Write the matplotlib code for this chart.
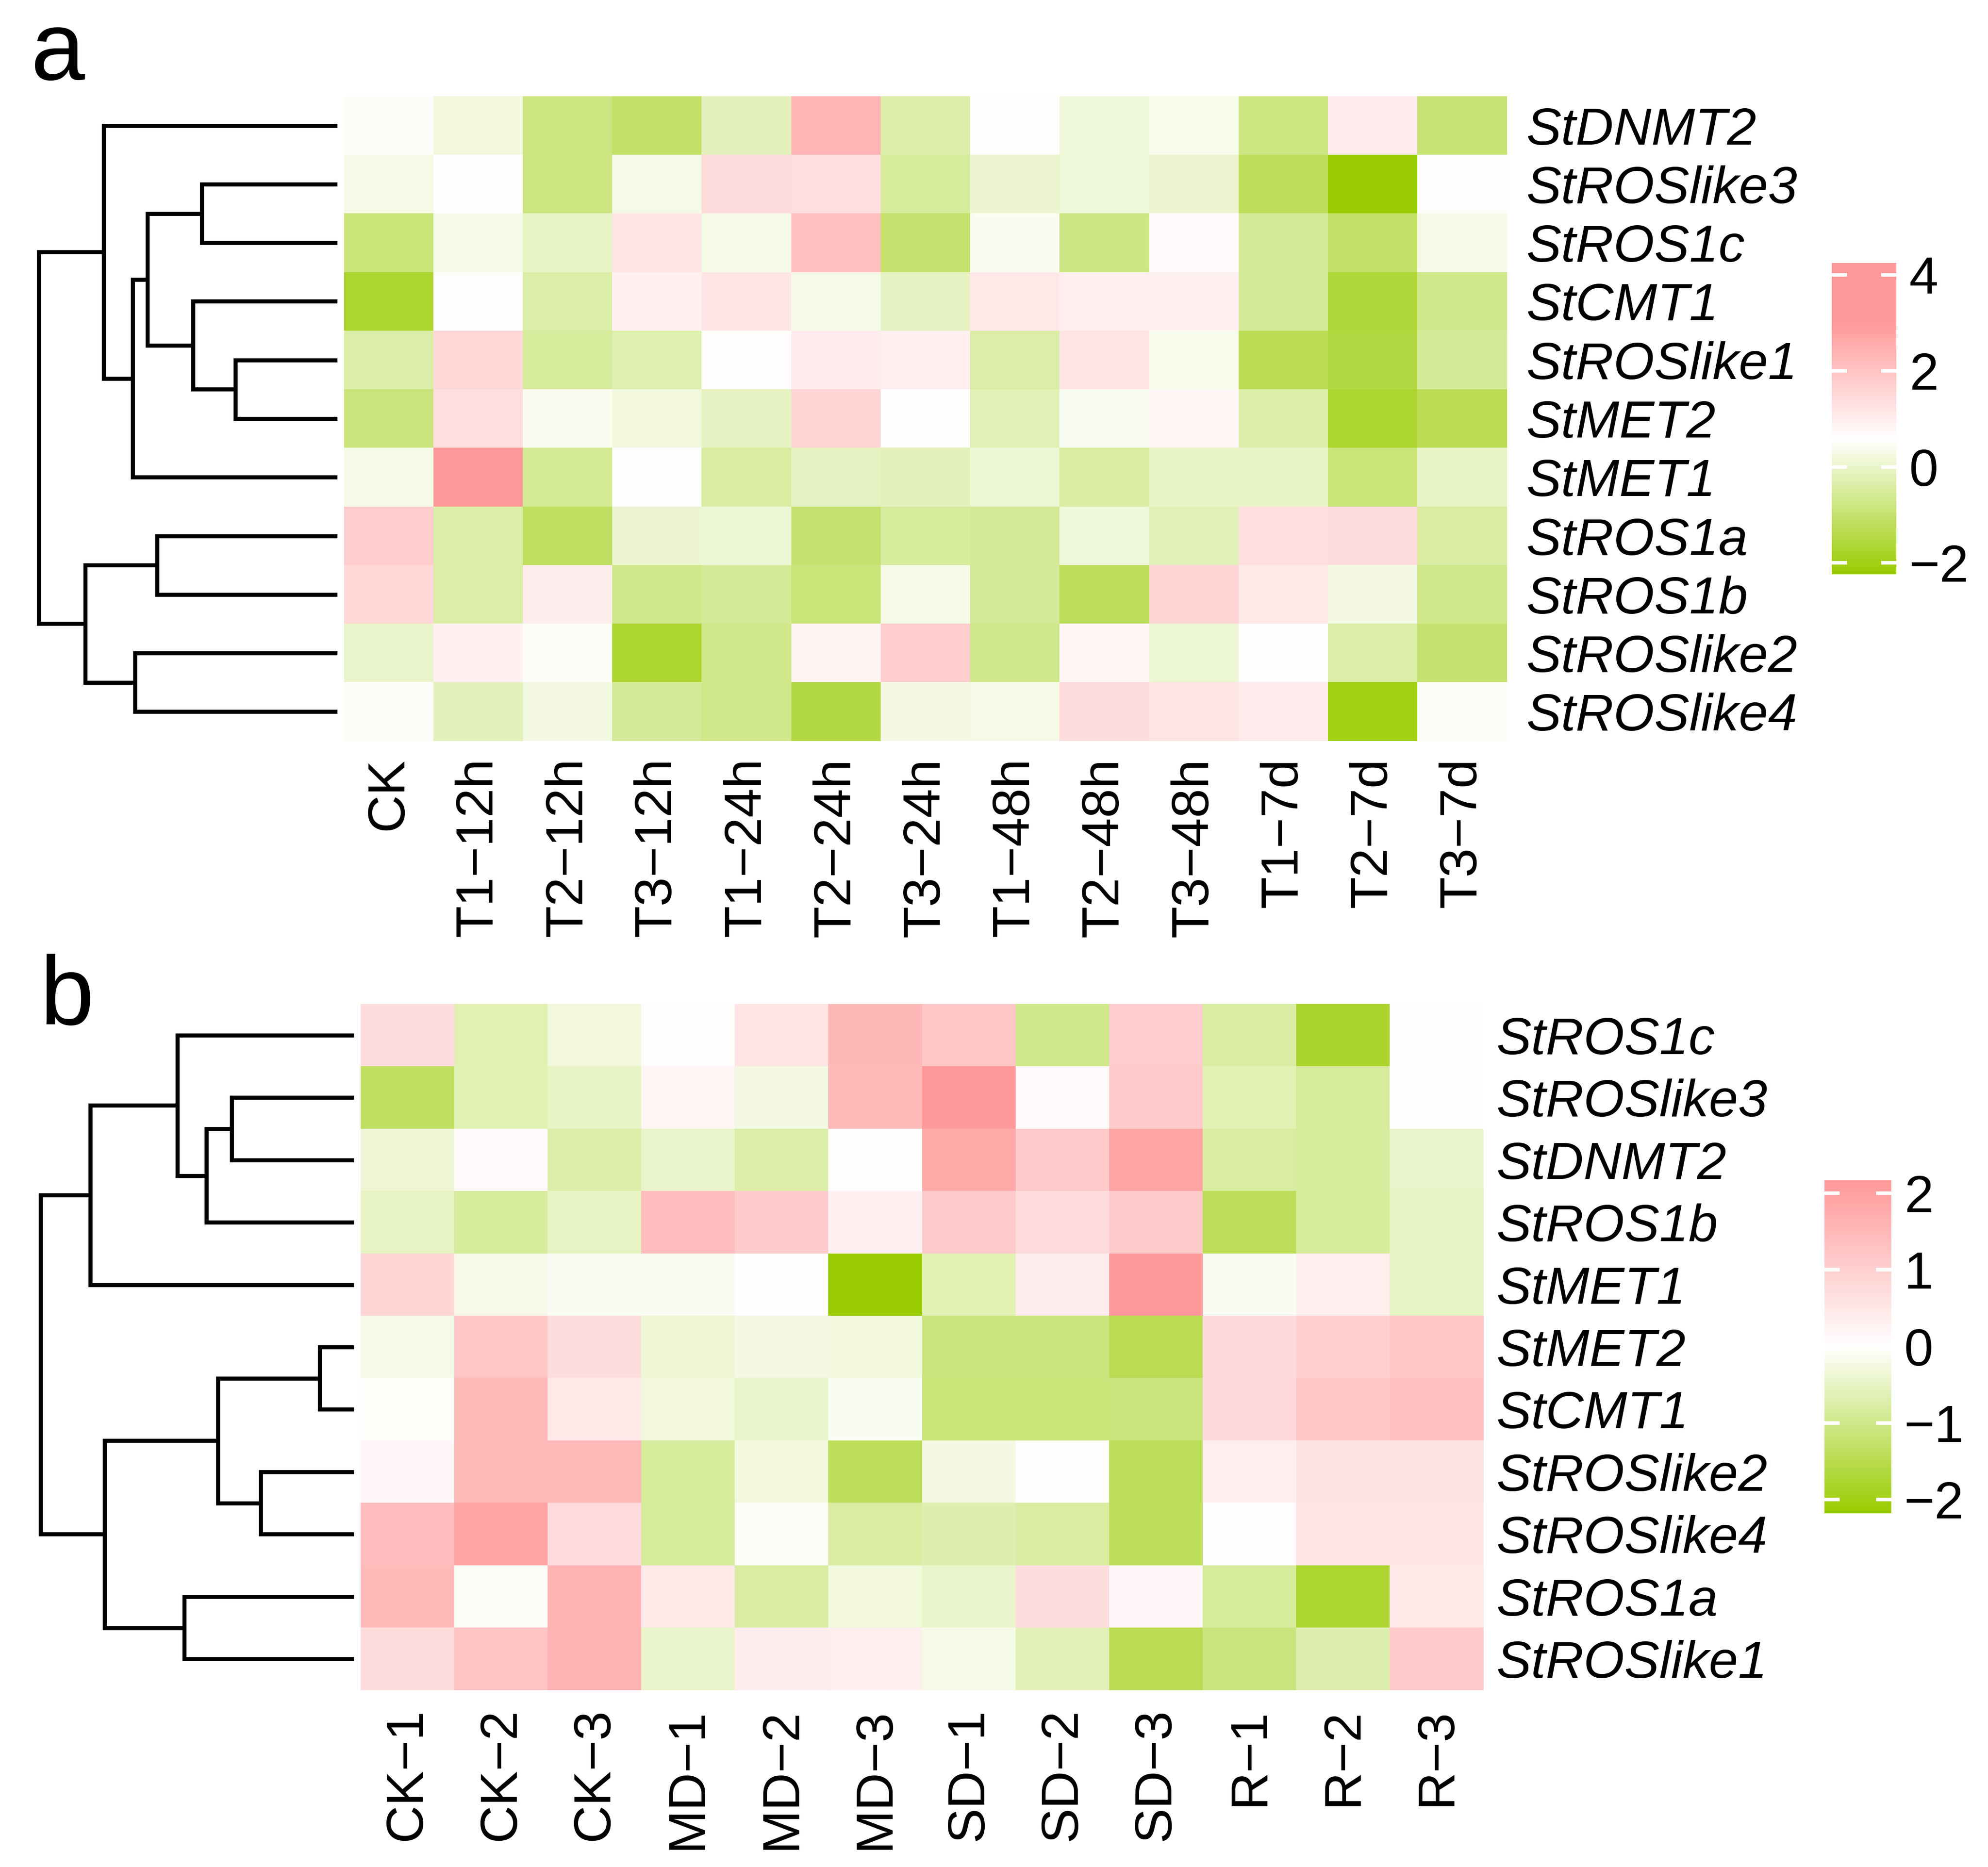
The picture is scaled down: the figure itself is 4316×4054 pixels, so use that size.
import numpy as np
import matplotlib
matplotlib.use("Agg")
import matplotlib.pyplot as plt
from matplotlib.colors import LinearSegmentedColormap, Normalize
from matplotlib.cm import ScalarMappable

plt.rcParams["font.family"] = ["Liberation Sans", "DejaVu Sans"]

W, H = 4316, 4054

# ---------------- panel a data ----------------
genes_a = ["StDNMT2", "StROSlike3", "StROS1c", "StCMT1", "StROSlike1", "StMET2",
           "StMET1", "StROS1a", "StROS1b", "StROSlike2", "StROSlike4"]
cols_a = ["CK", "T1\u221212h", "T2\u221212h", "T3\u221212h", "T1\u221224h", "T2\u221224h",
          "T3\u221224h", "T1\u221248h", "T2\u221248h", "T3\u221248h", "T1\u22127d",
          "T2\u22127d", "T3\u22127d"]
vals_a = np.array([
    [0.5, 0.2, -0.8, -1.1, -0.15, 2.3, -0.35, 0.65, 0.15, 0.35, -0.8, 1.05, -0.95],
    [0.3, 0.6, -0.8, 0.3, 1.4, 1.35, -0.5, 0.05, 0.15, 0.05, -1.25, -2.24, 0.65],
    [-0.9, 0.3, -0.05, 1.2, 0.3, 2.05, -1.0, 0.4, -0.75, 0.7, -0.55, -1.1, 0.3],
    [-1.7, 0.65, -0.4, 0.9, 1.15, 0.3, -0.1, 1.1, 0.95, 0.9, -0.55, -1.6, -0.7],
    [-0.4, 1.5, -0.5, -0.3, 0.65, 1.05, 0.95, -0.4, 1.2, 0.35, -1.3, -1.5, -0.55],
    [-0.85, 1.35, 0.4, 0.2, -0.1, 1.55, 0.6, -0.25, 0.4, 0.8, -0.4, -1.7, -1.3],
    [0.3, 4.25, -0.6, 0.65, -0.45, -0.1, -0.15, 0.1, -0.45, -0.05, -0.05, -0.9, -0.05],
    [1.75, -0.4, -1.15, 0.05, 0.1, -1.0, -0.5, -0.55, 0.15, -0.2, 1.3, 1.4, -0.45],
    [1.5, -0.4, 1.0, -0.7, -0.55, -0.9, 0.3, -0.55, -1.25, 1.55, 1.1, 0.25, -0.7],
    [0.0, 0.9, 0.5, -1.7, -0.7, 0.85, 1.75, -0.7, 0.8, 0.1, 0.62, -0.4, -1.0],
    [0.5, -0.15, 0.25, -0.55, -0.7, -1.5, 0.25, 0.3, 1.4, 1.2, 1.05, -2.0, 0.5],
])
# merges (child, child, height); leaves 0..10, new nodes numbered from 11
tree_a = [(1, 2, 2.94), (4, 5, 2.21), (3, 12, 3.13), (11, 13, 4.12), (14, 6, 4.44),
          (0, 15, 5.07), (7, 8, 3.91), (9, 10, 4.39), (17, 18, 5.47), (16, 19, 6.48)]
ticks_a = [-2, 0, 2, 4]

# ---------------- panel b data ----------------
genes_b = ["StROS1c", "StROSlike3", "StDNMT2", "StROS1b", "StMET1", "StMET2",
           "StCMT1", "StROSlike2", "StROSlike4", "StROS1a", "StROSlike1"]
cols_b = ["CK\u22121", "CK\u22122", "CK\u22123", "MD\u22121", "MD\u22122", "MD\u22123",
          "SD\u22121", "SD\u22122", "SD\u22123", "R\u22121", "R\u22122", "R\u22123"]
vals_b = np.array([
    [0.7, -0.65, -0.3, 0.05, 0.55, 1.5, 1.2, -1.0, 1.05, -0.8, -1.8, 0.02],
    [-1.35, -0.65, -0.5, 0.2, -0.25, 1.45, 2.15, 0.08, 1.1, -0.65, -0.85, 0.0],
    [-0.35, 0.1, -0.75, -0.45, -0.75, 0.05, 1.8, 1.1, 1.9, -0.8, -0.85, -0.45],
    [-0.5, -0.85, -0.5, 1.4, 1.1, 0.3, 1.1, 0.75, 1.1, -1.4, -0.85, -0.5],
    [0.85, -0.2, -0.12, -0.1, 0.02, -2.18, -0.65, 0.4, 2.17, -0.12, 0.35, -0.5],
    [-0.2, 1.2, 0.7, -0.35, -0.25, -0.3, -1.1, -1.1, -1.45, 0.8, 1.0, 1.2],
    [-0.05, 1.45, 0.45, -0.3, -0.45, -0.12, -1.15, -1.15, -1.1, 0.8, 1.2, 1.3],
    [0.15, 1.45, 1.45, -0.85, -0.3, -1.4, -0.25, 0.05, -1.4, 0.35, 0.6, 0.6],
    [1.4, 1.9, 0.75, -0.85, -0.08, -0.8, -0.7, -0.8, -1.4, 0.02, 0.55, 0.55],
    [1.45, -0.08, 1.6, 0.45, -0.8, -0.3, -0.45, 0.7, 0.15, -0.85, -1.75, 0.45],
    [0.7, 1.25, 1.6, -0.45, 0.4, 0.35, -0.2, -0.6, -1.45, -1.1, -0.7, 1.1],
])
tree_b = [(1, 2, 2.65), (11, 3, 3.20), (0, 12, 3.83), (13, 4, 5.72), (5, 6, 0.74),
          (7, 8, 2.02), (15, 16, 2.95), (9, 10, 3.68), (17, 18, 5.41), (14, 19, 6.80)]
ticks_b = [-2, -1, 0, 1, 2]

GREEN = "#99cc00"
PINK = "#ff9999"

# colour scales (white point / pink saturation as read from the legends)
cmap_a = LinearSegmentedColormap.from_list(
    "ga", [(0.0, GREEN), (0.433, "white"), (0.807, PINK), (1.0, PINK)])
cmap_b = LinearSegmentedColormap.from_list(
    "gb", [(0.0, GREEN), (0.5, "white"), (1.0, PINK)])

fig = plt.figure(figsize=(W / 100, H / 100), dpi=100)


def px_axes(x0, y0, x1, y1):
    return fig.add_axes([x0 / W, 1 - y1 / H, (x1 - x0) / W, (y1 - y0) / H])


def draw_tree(ax, merges, n):
    pos = {i: i + 0.5 for i in range(n)}
    hgt = {i: 0.0 for i in range(n)}
    for k, (a, b, h) in enumerate(merges):
        ax.plot([hgt[a], h, h, hgt[b]], [pos[a], pos[a], pos[b], pos[b]],
                color="black", lw=6.3, clip_on=False, solid_joinstyle="miter",
                solid_capstyle="butt")
        pos[n + k] = (pos[a] + pos[b]) / 2
        hgt[n + k] = h
    ax.set_xlim(max(hgt.values()), 0)
    ax.set_ylim(n, 0)
    ax.axis("off")


def heatmap(ax, vals, cmap, norm, rows, cols, ypad, xpad):
    nr, nc = vals.shape
    ax.imshow(vals, cmap=cmap, norm=norm, aspect="auto", interpolation="nearest",
              extent=(0, nc, nr, 0))
    for s in ax.spines.values():
        s.set_visible(False)
    ax.yaxis.tick_right()
    ax.set_yticks(np.arange(nr) + 0.5)
    ax.set_yticklabels(rows, fontsize=82, fontstyle="italic")
    ax.set_xticks(np.arange(nc) + 0.5)
    ax.set_xticklabels(cols, fontsize=82, rotation=90)
    ax.tick_params(axis="y", length=0, pad=ypad)
    ax.tick_params(axis="x", length=0, pad=xpad)


def legend_bar(cax, cmap, norm, ticks):
    cb = fig.colorbar(ScalarMappable(norm=norm, cmap=cmap), cax=cax, ticks=ticks)
    cb.outline.set_visible(False)
    cax.yaxis.set_ticks_position("both")
    cax.tick_params(direction="in", length=24, width=5.5, color="white",
                    labelsize=82, pad=20, labelright=True, labelleft=False)


# ---- panel a ----
norm_a = Normalize(vmin=vals_a.min(), vmax=vals_a.max())
ax_ha = px_axes(747, 209, 3272, 1609)
heatmap(ax_ha, vals_a, cmap_a, norm_a, genes_a, cols_a, ypad=30, xpad=26)
ax_da = px_axes(84, 209, 732, 1609)
draw_tree(ax_da, tree_a, len(genes_a))
cax_a = px_axes(3977, 571, 4117, 1247)
legend_bar(cax_a, cmap_a, norm_a, ticks_a)

# ---- panel b ----
norm_b = Normalize(vmin=vals_b.min(), vmax=vals_b.max())
ax_hb = px_axes(783, 2180, 3221, 3670)
heatmap(ax_hb, vals_b, cmap_b, norm_b, genes_b, cols_b, ypad=20, xpad=28)
ax_db = px_axes(88, 2180, 768, 3670)
draw_tree(ax_db, tree_b, len(genes_b))
cax_b = px_axes(3961, 2563, 4106, 3286)
legend_bar(cax_b, cmap_b, norm_b, ticks_b)

fig.text(67 / W, 1 - 173 / H, "a", fontsize=152, ha="left", va="baseline")
fig.text(86 / W, 1 - 2223 / H, "b", fontsize=152, ha="left", va="baseline")

fig.savefig("out.png", dpi=100, facecolor="white")
